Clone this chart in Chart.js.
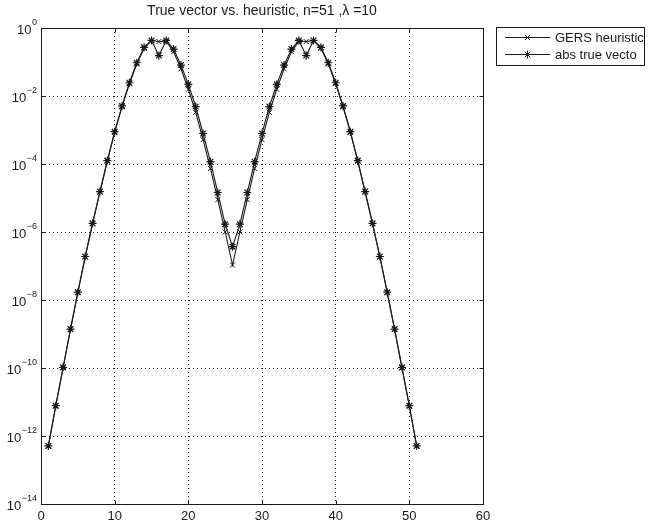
<!DOCTYPE html>
<html>
<head>
<meta charset="utf-8">
<script src="https://cdn.jsdelivr.net/npm/chart.js@4.4.1/dist/chart.umd.min.js"></script>
<style>
html,body{margin:0;padding:0;background:#fff;}
#c{display:block;}
</style>
</head>
<body>
<canvas id="c" width="649" height="524"></canvas>
<script>
// ---- data ----
const xIndex = [1,2,3,4,5,6,7,8,9,10,11,12,13,14,15,16,17,18,19,20,21,22,23,24,25,26,
  27,28,29,30,31,32,33,34,35,36,37,38,39,40,41,42,43,44,45,46,47,48,49,50,51];

const gersHeuristic = [5.0e-13,7.6e-12,1.0e-10,1.35e-9,1.65e-8,1.85e-7,1.75e-6,1.5e-5,1.2e-4,8.5e-4,
  4.8e-3,0.023,0.088,0.25,0.43,0.40,0.40,0.20,0.063,0.0158,3.3e-3,5.2e-4,7.4e-5,8.9e-6,1.0e-6,1.07e-7,
  1.0e-6,8.9e-6,7.4e-5,5.2e-4,3.3e-3,0.0158,0.063,0.20,0.40,0.40,0.43,0.25,0.088,0.023,4.8e-3,
  8.5e-4,1.2e-4,1.5e-5,1.75e-6,1.85e-7,1.65e-8,1.35e-9,1.0e-10,7.6e-12,5.0e-13];

const absTrueVector = [5.1e-13,7.8e-12,1.05e-10,1.4e-9,1.7e-8,1.9e-7,1.8e-6,1.55e-5,1.26e-4,8.9e-4,
  5.1e-3,0.0245,0.095,0.27,0.43,0.155,0.43,0.24,0.081,0.022,4.9e-3,7.9e-4,1.17e-4,1.45e-5,1.7e-6,3.7e-7,
  1.7e-6,1.45e-5,1.17e-4,7.9e-4,4.9e-3,0.022,0.081,0.24,0.43,0.155,0.43,0.27,0.095,0.0245,5.1e-3,
  8.9e-4,1.26e-4,1.55e-5,1.8e-6,1.9e-7,1.7e-8,1.4e-9,1.05e-10,7.8e-12,5.1e-13];

const seriesLabels = ['GERS heuristic', 'abs true vecto'];
const xTicks = [0,10,20,30,40,50,60];
const yTickExponents = [-14,-12,-10,-8,-6,-4,-2,0];
const titleText = 'True vector vs. heuristic, n=51 ,\u03BB =10';

// ---- chart ----
const FONT = '"Liberation Sans", Arial, Helvetica, sans-serif';
const INK = '#1a1a1a';

function toPoints(vals){ return xIndex.map((x,i)=>({x:x, y:vals[i]})); }

const framePlugin = {
  id:'frame',
  afterDraw(chart){
    const ctx = chart.ctx, a = chart.chartArea;
    const xs = chart.scales.x, ys = chart.scales.y;
    ctx.save();
    // box
    ctx.strokeStyle = INK; ctx.lineWidth = 1;
    const L = Math.round(a.left)+0.5, R = Math.round(a.right)+0.5, T = Math.round(a.top)+0.5, B = Math.round(a.bottom)+0.5;
    ctx.strokeRect(L, T, R-L, B-T);
    // inward ticks
    ctx.beginPath();
    xTicks.forEach(v=>{
      const p = Math.round(xs.getPixelForValue(v))+0.5;
      ctx.moveTo(p,B); ctx.lineTo(p,B-4);
      ctx.moveTo(p,T); ctx.lineTo(p,T+4);
    });
    yTickExponents.forEach(e=>{
      const p = Math.round(ys.getPixelForValue(Math.pow(10,e)))+0.5;
      ctx.moveTo(L,p); ctx.lineTo(L+4,p);
      ctx.moveTo(R,p); ctx.lineTo(R-4,p);
    });
    ctx.stroke();
    // y tick labels 10^e
    ctx.fillStyle = INK;
    ctx.textBaseline = 'middle';
    yTickExponents.forEach(e=>{
      const p = ys.getPixelForValue(Math.pow(10,e));
      ctx.font = '9px ' + FONT;
      const es = String(e).replace('-', '\u2212');
      const ew = ctx.measureText(es).width;
      const right = a.left - 4;
      ctx.textAlign = 'left';
      ctx.fillText(es, right - ew, p - 5);
      ctx.font = '13px ' + FONT;
      ctx.textAlign = 'right';
      ctx.fillText('10', right - ew - 0.5, p + 2);
    });
    // title
    ctx.font = '14px ' + FONT;
    ctx.textAlign = 'center';
    ctx.textBaseline = 'middle';
    ctx.fillText(titleText, (a.left + a.right)/2, 11);
    // legend
    const bx = 496.5, by = 27.5, bw = 148, bh = 38;
    ctx.fillStyle = '#fff';
    ctx.fillRect(bx, by, bw, bh);
    ctx.strokeStyle = INK;
    ctx.strokeRect(bx, by, bw, bh);
    const styles = ['crossRot','star'];
    seriesLabels.forEach((lab,i)=>{
      const yy = by + 10 + i*17;
      ctx.beginPath(); ctx.moveTo(505, yy); ctx.lineTo(550, yy);
      ctx.lineWidth = 1; ctx.strokeStyle = INK; ctx.stroke();
      Chart.helpers.drawPoint(ctx, {pointStyle: styles[i], radius: i ? 4 : 3.5, borderWidth: i?1.2:1, rotation:0}, 527.5, yy);
      ctx.save();
      ctx.beginPath(); ctx.rect(bx, by, bw, bh); ctx.clip();
      ctx.fillStyle = INK; ctx.font = '13px ' + FONT;
      ctx.textAlign = 'left'; ctx.textBaseline = 'middle';
      ctx.fillText(lab, 555, yy + 1);
      ctx.restore();
    });
    ctx.restore();
  }
};

const bgPlugin = {
  id:'bg',
  beforeDraw(chart){
    const ctx = chart.ctx;
    ctx.save(); ctx.fillStyle = '#fff'; ctx.fillRect(0,0,chart.width,chart.height); ctx.restore();
  }
};

new Chart(document.getElementById('c'), {
  type: 'line',
  data: {
    datasets: [
      { label: seriesLabels[0], data: toPoints(gersHeuristic), borderColor: INK, borderWidth: 1.1,
        pointStyle: 'crossRot', pointRadius: 3.5, pointBorderColor: INK, pointBorderWidth: 1,
        pointBackgroundColor: INK, tension: 0, fill: false },
      { label: seriesLabels[1], data: toPoints(absTrueVector), borderColor: INK, borderWidth: 1.1,
        pointStyle: 'star', pointRadius: 4, pointBorderColor: INK, pointBorderWidth: 1.2,
        pointBackgroundColor: INK, tension: 0, fill: false }
    ]
  },
  options: {
    responsive: false,
    animation: false,
    devicePixelRatio: 1,
    layout: { padding: { left: 0, right: 166, top: 28, bottom: 0 } },
    plugins: { legend: { display: false }, title: { display: false }, tooltip: { enabled: false } },
    scales: {
      x: {
        type: 'linear', min: 0, max: 60,
        afterBuildTicks: s => { s.ticks = xTicks.map(v=>({value:v})); },
        afterFit: s => { s.height = 20; },
        ticks: { color: INK, font: { family: FONT, size: 13 }, padding: 5, maxRotation: 0,
                 callback: v => String(v) },
        grid: { color: INK, lineWidth: 1, drawTicks: false },
        border: { display: false, dash: [1,3] }
      },
      y: {
        type: 'logarithmic', min: 1e-14, max: 1,
        afterBuildTicks: s => { s.ticks = yTickExponents.map(e=>({value: Math.pow(10,e)})); },
        afterFit: s => { s.width = 41; },
        ticks: { display: false },
        grid: { color: INK, lineWidth: 1, drawTicks: false },
        border: { display: false, dash: [1,3] }
      }
    }
  },
  plugins: [bgPlugin, framePlugin]
});
</script>
</body>
</html>
